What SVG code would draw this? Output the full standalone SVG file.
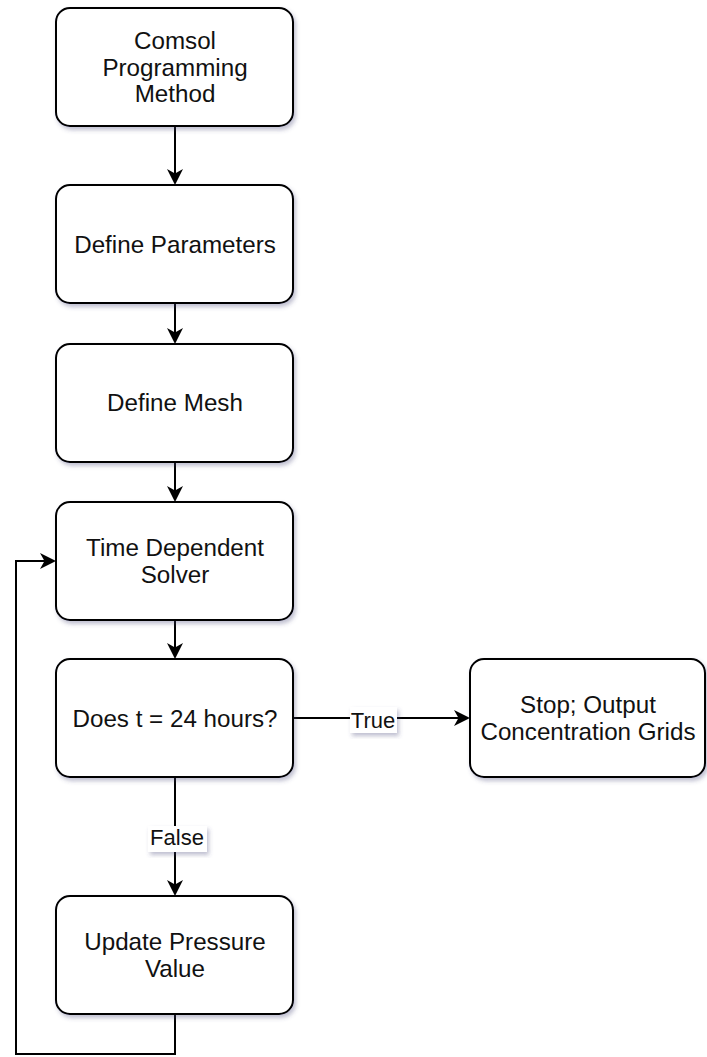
<svg xmlns="http://www.w3.org/2000/svg" width="707" height="1057" viewBox="0 0 707 1057">
<defs>
<filter id="sh" x="-10%" y="-10%" width="125%" height="130%">
<feDropShadow dx="2" dy="3" stdDeviation="2" flood-color="#4a4a7a" flood-opacity="0.35"/>
</filter>
<marker id="arr" viewBox="0 0 17 17" refX="13" refY="8.5" markerWidth="17" markerHeight="17" markerUnits="userSpaceOnUse" orient="auto">
<path d="M16,8.5 L0,0.5 L4.5,8.5 L0,16.5 Z" fill="#000"/>
</marker>
<style>
.box{fill:#fff;stroke:#000;stroke-width:2;filter:url(#sh)}
.t{font-family:"Liberation Sans",Arial,sans-serif;font-size:24.2px;fill:#111;text-anchor:middle}
.lt{font-family:"Liberation Sans",Arial,sans-serif;font-size:22px;fill:#111;text-anchor:middle}
.c{fill:none;stroke:#000;stroke-width:2}
.lbg{fill:#fff;filter:url(#sh)}
</style>
</defs>
<rect width="707" height="1057" fill="#fff"/>
<g id="connectors">
<path class="c" d="M175,126 L175,182" marker-end="url(#arr)"/>
<path class="c" d="M175,303 L175,341" marker-end="url(#arr)"/>
<path class="c" d="M175,462 L175,499" marker-end="url(#arr)"/>
<path class="c" d="M175,620 L175,656" marker-end="url(#arr)"/>
<path class="c" d="M175,777 L175,893" marker-end="url(#arr)"/>
<path class="c" d="M293,718 L467,718" marker-end="url(#arr)"/>
<path class="c" d="M175,1014 L175,1054 L16,1054 L16,561 L53,561" marker-end="url(#arr)"/>
<g id="label-true">
<rect class="lbg" x="350" y="707" width="47" height="26"/>
<text class="lt" x="373" y="728">True</text>
</g>
<g id="label-false">
<rect class="lbg" x="148" y="826" width="59" height="26"/>
<text class="lt" x="177" y="845">False</text>
</g>
</g>
<g id="n1">
<rect class="box" x="56" y="8" width="237" height="118" rx="14"/>
<text class="t" x="175" y="49">Comsol</text>
<text class="t" x="175" y="75.5">Programming</text>
<text class="t" x="175" y="102">Method</text>
</g>
<g id="n2">
<rect class="box" x="56" y="185" width="237" height="118" rx="14"/>
<text class="t" x="175" y="252.5">Define Parameters</text>
</g>
<g id="n3">
<rect class="box" x="56" y="344" width="237" height="118" rx="14"/>
<text class="t" x="175" y="411">Define Mesh</text>
</g>
<g id="n4">
<rect class="box" x="56" y="502" width="237" height="118" rx="14"/>
<text class="t" x="175" y="556">Time Dependent</text>
<text class="t" x="175" y="582.5">Solver</text>
</g>
<g id="n5">
<rect class="box" x="56" y="659" width="237" height="118" rx="14"/>
<text class="t" x="175" y="727">Does t = 24 hours?</text>
</g>
<g id="n6">
<rect class="box" x="56" y="896" width="237" height="118" rx="14"/>
<text class="t" x="175" y="950">Update Pressure</text>
<text class="t" x="175" y="976.5">Value</text>
</g>
<g id="n7">
<rect class="box" x="470" y="659" width="235" height="118" rx="14"/>
<text class="t" x="588" y="713">Stop; Output</text>
<text class="t" x="588" y="740">Concentration Grids</text>
</g>
</svg>
